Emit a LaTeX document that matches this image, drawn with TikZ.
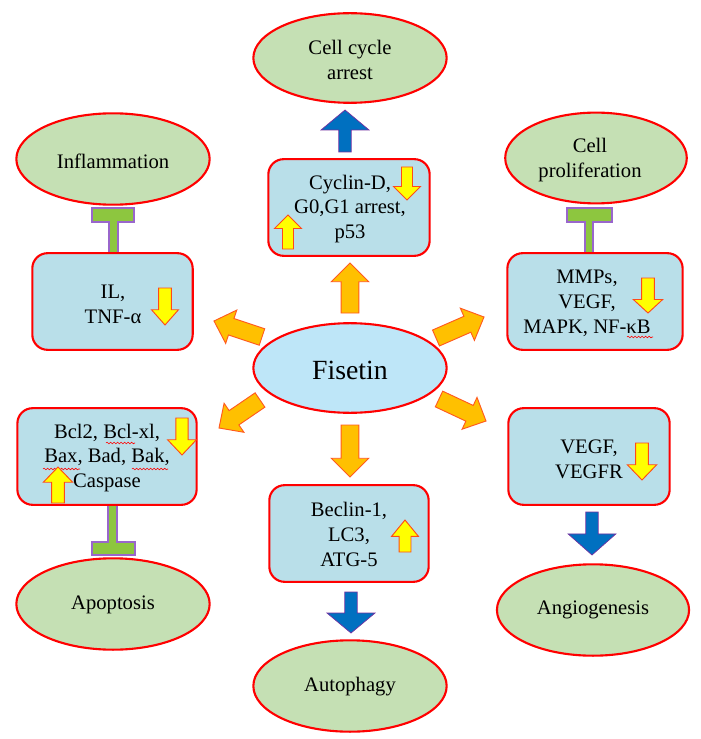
\documentclass[tikz,border=0pt]{standalone}
\usepackage{fontspec}
\setmainfont{Liberation Serif}
\usetikzlibrary{shapes.geometric,calc,decorations.pathmorphing}
\definecolor{ellgreen}{HTML}{C5E0B4}
\definecolor{boxblue}{HTML}{B9DFE9}
\definecolor{fisblue}{HTML}{BEE6F8}
\definecolor{arrorange}{HTML}{FFC000}
\definecolor{arrorangeline}{HTML}{FF5A1F}
\definecolor{arryellow}{HTML}{FFFF00}
\definecolor{arryellowline}{HTML}{FF4A1A}
\definecolor{arrblue}{HTML}{0070C0}
\definecolor{arrblueline}{HTML}{7030A0}
\definecolor{tgreen}{HTML}{8DC63F}
\definecolor{tline}{HTML}{9966CC}
\newcommand{\blockarr}[6]{%
  \coordinate (ba-h) at ($(#3)!#6!(#2)$);
  \path[#1] ($(#2)!#4!90:(#3)$) -- ($(ba-h)!#4!90:(#3)$) -- ($(ba-h)!#5!90:(#3)$) -- (#3)
    -- ($(ba-h)!#5!-90:(#3)$) -- ($(ba-h)!#4!-90:(#3)$) -- ($(#2)!#4!-90:(#3)$) -- cycle;}
\tikzset{
  outcome/.style={ellipse, draw=red, line width=1.8pt, fill=ellgreen, inner sep=0pt},
  midbox/.style={rectangle, rounded corners=13pt, draw=red, line width=1.8pt, fill=boxblue, inner sep=0pt, minimum height=82.5pt},
  lbl/.style={align=center, inner sep=0pt, font=\fontsize{17.6}{21.3}\selectfont},
  orangearr/.style={fill=arrorange, draw=arrorangeline, line width=0.8pt, line join=miter},
  yellowarr/.style={fill=arryellow, draw=arryellowline, line width=0.8pt, line join=miter},
  bluearr/.style={fill=arrblue, draw=arrblueline, line width=0.6pt, line join=miter},
  inhib/.style={fill=tgreen, draw=tline, line width=0.9pt},
  squig/.style={draw=red, line width=0.5pt, decorate, decoration={snake, amplitude=0.7pt, segment length=3pt}}
}
\begin{document}
\begin{tikzpicture}[x=0.03cm, y=-0.03cm]
\path[use as bounding box] (0,0) rectangle (700,739);

% inhibition bars (drawn first)
\path[inhib] (109,253) -- (109,222) -- (92,222) -- (92,208) -- (134,208) -- (134,222) -- (118,222) -- (118,253) -- cycle;
\path[inhib] (585,253) -- (585,222) -- (567,222) -- (567,208) -- (612,208) -- (612,222) -- (593,222) -- (593,253) -- cycle;
\path[inhib] (108,505) -- (108,542) -- (92,542) -- (92,555) -- (135,555) -- (135,542) -- (117,542) -- (117,505) -- cycle;

% outcome ellipses
\node[outcome, minimum width=165pt, minimum height=76.5pt] (cca) at (350,58) {};
\node[lbl] (ccat) at (350,60) {Cell cycle\\arrest};
\node[outcome, minimum width=165pt, minimum height=78pt] (inf) at (113,159) {};
\node[lbl] (inft) at (113,161) {Inflammation};
\node[outcome, minimum width=155pt, minimum height=77.5pt] (pro) at (596,158) {};
\node[lbl] (prot) at (590,160) {Cell\\proliferation};
\node[outcome, minimum width=165pt, minimum height=78pt] (apo) at (113,604) {};
\node[lbl] (apot) at (113,605) {Apoptosis};
\node[outcome, minimum width=165pt, minimum height=78pt] (aut) at (350,686) {};
\node[lbl] (autt) at (350,687) {Autophagy};
\node[outcome, minimum width=164pt, minimum height=78pt] (ang) at (593,610) {};
\node[lbl] (angt) at (593,610) {Angiogenesis};

% Fisetin
\node[ellipse, draw=red, line width=1.8pt, fill=fisblue, inner sep=0pt, minimum width=165pt, minimum height=76.5pt] (fis) at (350,368) {};
\node[inner sep=0pt, font=\fontsize{23.7}{28}\selectfont] (fist) at (350,370) {Fisetin};

% boxes
\node[midbox, minimum width=137.7pt] (cyc) at (349,207.5) {};
\node[lbl] (cyct) at (350,209) {Cyclin-D,\\G0,G1 arrest,\\p53};
\node[midbox, minimum width=136.9pt] (il) at (112.5,301.5) {};
\node[lbl] (ilt) at (113,304) {IL,\\TNF-α};
\node[midbox, minimum width=149.6pt] (mmp) at (595,301.5) {};
\node[lbl] (mmpt) at (587,303) {MMPs,\\VEGF,\\MAPK, NF-κB};
\node[midbox, minimum width=153pt] (bcl) at (107,456.5) {};
\node[lbl] (bclt) at (107,458) {Bcl2, Bcl-xl,\\Bax, Bad, Bak,\\Caspase};
\node[midbox, minimum width=136pt] (bec) at (349,533.5) {};
\node[lbl] (bect) at (349,534) {Beclin-1,\\LC3,\\ATG-5};
\node[midbox, minimum width=137.7pt] (veg) at (589,456.5) {};
\node[lbl] (vegt) at (589,459) {VEGF,\\VEGFR};

% spell-check squiggles
\path[squig] (106,443) -- (135,443);
\path[squig] (43,469) -- (80,469);
\path[squig] (132,469) -- (168,469);
\path[squig] (627,337) -- (653,337);

% orange arrows from Fisetin
\coordinate (oUa) at (350,313); \coordinate (oUb) at (350,263);
\coordinate (oDa) at (350,425); \coordinate (oDb) at (350,477);
\coordinate (oULa) at (262,337); \coordinate (oULb) at (214,321);
\coordinate (oURa) at (436,338); \coordinate (oURb) at (484,317);
\coordinate (oDLa) at (260,400); \coordinate (oDLb) at (219,428);
\coordinate (oDRa) at (439,399); \coordinate (oDRb) at (486,421);
\blockarr{orangearr}{oUa}{oUb}{7.6pt}{16pt}{16pt}
\blockarr{orangearr}{oDa}{oDb}{7.6pt}{16pt}{16pt}
\blockarr{orangearr}{oULa}{oULb}{7.4pt}{15pt}{15.5pt}
\blockarr{orangearr}{oURa}{oURb}{7.4pt}{15pt}{15.5pt}
\blockarr{orangearr}{oDLa}{oDLb}{7.4pt}{15pt}{15.5pt}
\blockarr{orangearr}{oDRa}{oDRb}{7.4pt}{15pt}{15.5pt}

% blue arrows to outcomes
\coordinate (bUa) at (345,152); \coordinate (bUb) at (345,110);
\coordinate (bAa) at (351,592); \coordinate (bAb) at (351,633);
\coordinate (bGa) at (592,512); \coordinate (bGb) at (592,555);
\blockarr{bluearr}{bUa}{bUb}{5.3pt}{20.4pt}{17pt}
\blockarr{bluearr}{bAa}{bAb}{5.3pt}{20.4pt}{17pt}
\blockarr{bluearr}{bGa}{bGb}{5.3pt}{20.4pt}{18pt}

% small yellow arrows
\coordinate (y1a) at (407,167); \coordinate (y1b) at (407,200);
\coordinate (y2a) at (288,249); \coordinate (y2b) at (288,215);
\coordinate (y3a) at (165,288); \coordinate (y3b) at (165,325);
\coordinate (y4a) at (648,278); \coordinate (y4b) at (648,313);
\coordinate (y5a) at (182,418); \coordinate (y5b) at (182,455);
\coordinate (y6a) at (58,503); \coordinate (y6b) at (58,467);
\coordinate (y7a) at (405,552); \coordinate (y7b) at (405,520);
\coordinate (y8a) at (642,443); \coordinate (y8b) at (642,480);
\blockarr{yellowarr}{y1a}{y1b}{4.7pt}{11.5pt}{11.5pt}
\blockarr{yellowarr}{y2a}{y2b}{4.7pt}{11.5pt}{11.5pt}
\blockarr{yellowarr}{y3a}{y3b}{5.5pt}{11.5pt}{13pt}
\blockarr{yellowarr}{y4a}{y4b}{5.5pt}{12.5pt}{11.5pt}
\blockarr{yellowarr}{y5a}{y5b}{5.2pt}{12.3pt}{13pt}
\blockarr{yellowarr}{y6a}{y6b}{5.5pt}{12.5pt}{13pt}
\blockarr{yellowarr}{y7a}{y7b}{5.1pt}{11.5pt}{14pt}
\blockarr{yellowarr}{y8a}{y8b}{5.5pt}{12.5pt}{13pt}
\end{tikzpicture}
\end{document}
